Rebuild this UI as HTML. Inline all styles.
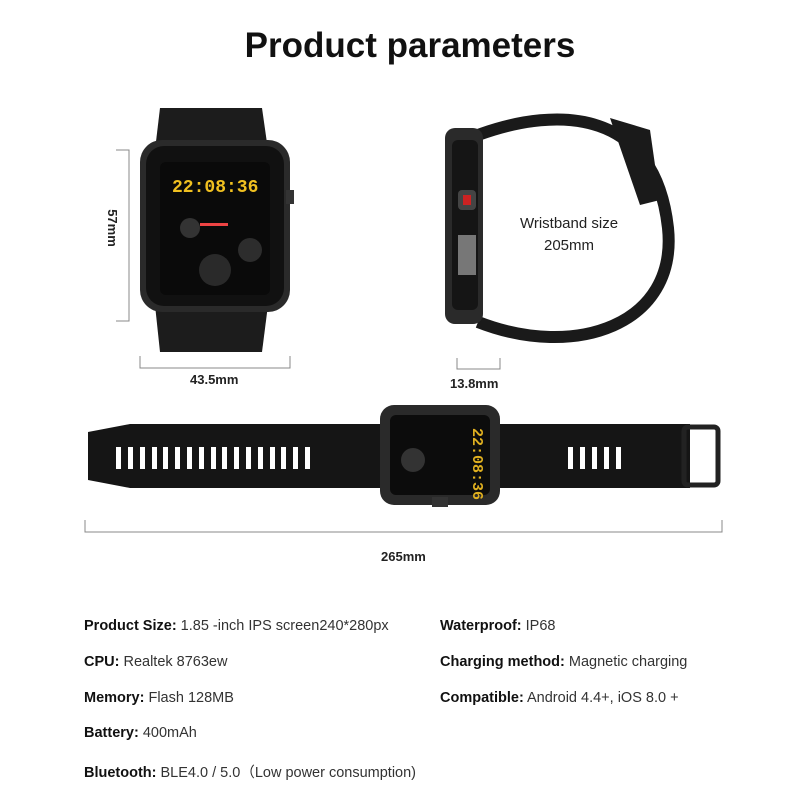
<!DOCTYPE html>
<html><head><meta charset="utf-8"><style>
body{margin:0;width:800px;height:800px;background:#fff;font-family:"Liberation Sans",sans-serif;position:relative;overflow:hidden}
.t{position:absolute;white-space:nowrap}
.spec{position:absolute;font-size:14.5px;color:#333;white-space:nowrap}
.spec b{color:#111;font-weight:bold}
</style></head><body>
<div class="t" style="left:0;width:820px;text-align:center;top:26px;font-size:35px;font-weight:bold;color:#111">Product parameters</div>
<svg width="800" height="800" style="position:absolute;left:0;top:0">
<!-- front watch -->
<path d="M160 108 L262 108 L268 150 L155 150 Z" fill="#1c1c1c"/>
<path d="M155 305 L268 305 L262 352 L160 352 Z" fill="#1c1c1c"/>
<rect x="140" y="140" width="150" height="172" rx="22" fill="#2a2a2a"/>
<rect x="146" y="146" width="138" height="160" rx="18" fill="#111"/>
<rect x="160" y="162" width="110" height="133" rx="6" fill="#0a0a0a"/>
<rect x="286" y="190" width="8" height="14" fill="#333"/>
<text x="172" y="192" font-family="Liberation Mono" font-size="18" font-weight="bold" fill="#f0c020">22:08:36</text>
<circle cx="215" cy="270" r="16" fill="#2a2a2a"/><circle cx="190" cy="228" r="10" fill="#333"/><circle cx="250" cy="250" r="12" fill="#2d2d2d"/>
<rect x="200" y="223" width="28" height="3" fill="#e44"/>
<!-- dims front -->
<g stroke="#888" stroke-width="1" fill="none">
<path d="M116 150 H129 V321 H116"/>
<path d="M140 356 V368 H290 V356"/>
<path d="M457 358 V369 H500 V358"/>
<path d="M85 520 V532 H722 V520"/>
</g>
<!-- side watch -->
<path d="M478 135 C560 105 655 110 668 228 C678 325 575 360 478 322" fill="none" stroke="#1a1a1a" stroke-width="12"/>
<path d="M610 118 L650 130 L660 200 L640 205 Z" fill="#1a1a1a"/>
<rect x="445" y="128" width="38" height="196" rx="10" fill="#2a2a2a"/>
<rect x="452" y="140" width="26" height="170" rx="6" fill="#151515"/>
<rect x="458" y="190" width="18" height="20" rx="4" fill="#444"/><rect x="463" y="195" width="8" height="10" fill="#c22"/>
<rect x="458" y="235" width="18" height="40" fill="#777"/>
<!-- flat band -->
<path d="M88 432 L130 424 L380 424 L380 488 L130 488 L88 480 Z" fill="#151515"/>
<path d="M500 424 L690 424 L690 488 L500 488 Z" fill="#151515"/>
<rect x="684" y="427" width="34" height="58" rx="4" fill="none" stroke="#222" stroke-width="5"/>
<rect x="380" y="405" width="120" height="100" rx="14" fill="#2a2a2a"/>
<rect x="390" y="415" width="100" height="80" rx="6" fill="#0c0c0c"/>
<rect x="432" y="497" width="16" height="10" fill="#333"/>
<circle cx="413" cy="460" r="12" fill="#333"/>
<text x="473" y="428" transform="rotate(90 473 428)" font-family="Liberation Mono" font-size="15" font-weight="bold" fill="#e0b020">22:08:36</text>
<g fill="#fff">
<rect x="116" y="447" width="5" height="22"/><rect x="128" y="447" width="5" height="22"/><rect x="140" y="447" width="5" height="22"/><rect x="152" y="447" width="5" height="22"/><rect x="163" y="447" width="5" height="22"/><rect x="175" y="447" width="5" height="22"/><rect x="187" y="447" width="5" height="22"/><rect x="199" y="447" width="5" height="22"/><rect x="211" y="447" width="5" height="22"/><rect x="222" y="447" width="5" height="22"/><rect x="234" y="447" width="5" height="22"/><rect x="246" y="447" width="5" height="22"/><rect x="258" y="447" width="5" height="22"/><rect x="270" y="447" width="5" height="22"/><rect x="281" y="447" width="5" height="22"/><rect x="293" y="447" width="5" height="22"/><rect x="305" y="447" width="5" height="22"/>
<rect x="568" y="447" width="5" height="22"/><rect x="580" y="447" width="5" height="22"/><rect x="592" y="447" width="5" height="22"/><rect x="604" y="447" width="5" height="22"/><rect x="616" y="447" width="5" height="22"/>
</g>
<text x="108" y="228" transform="rotate(90 108 228)" text-anchor="middle" font-size="13" font-weight="bold" fill="#222">57mm</text>
</svg>
<div class="t" style="left:190px;top:372px;font-size:13px;font-weight:bold;color:#222">43.5mm</div>
<div class="t" style="left:450px;top:376px;font-size:13px;font-weight:bold;color:#222">13.8mm</div>
<div class="t" style="left:510px;top:213px;width:118px;text-align:center;font-size:15px;color:#222;line-height:22px">Wristband size<br>205mm</div>
<div class="t" style="left:381px;top:549px;font-size:13px;font-weight:bold;color:#222">265mm</div>
<div class="spec" style="left:84px;top:618px"><b>Product Size:</b> 1.85 -inch IPS screen240*280px</div>
<div class="spec" style="left:84px;top:654px"><b>CPU:</b> Realtek 8763ew</div>
<div class="spec" style="left:84px;top:690px"><b>Memory:</b> Flash 128MB</div>
<div class="spec" style="left:84px;top:725px"><b>Battery:</b> 400mAh</div>
<div class="spec" style="left:84px;top:761px"><b>Bluetooth:</b> BLE4.0 / 5.0（Low power consumption)</div>
<div class="spec" style="left:440px;top:618px"><b>Waterproof:</b> IP68</div>
<div class="spec" style="left:440px;top:654px"><b>Charging method:</b> Magnetic charging</div>
<div class="spec" style="left:440px;top:690px"><b>Compatible:</b> Android 4.4+, iOS 8.0 +</div>
</body></html>
